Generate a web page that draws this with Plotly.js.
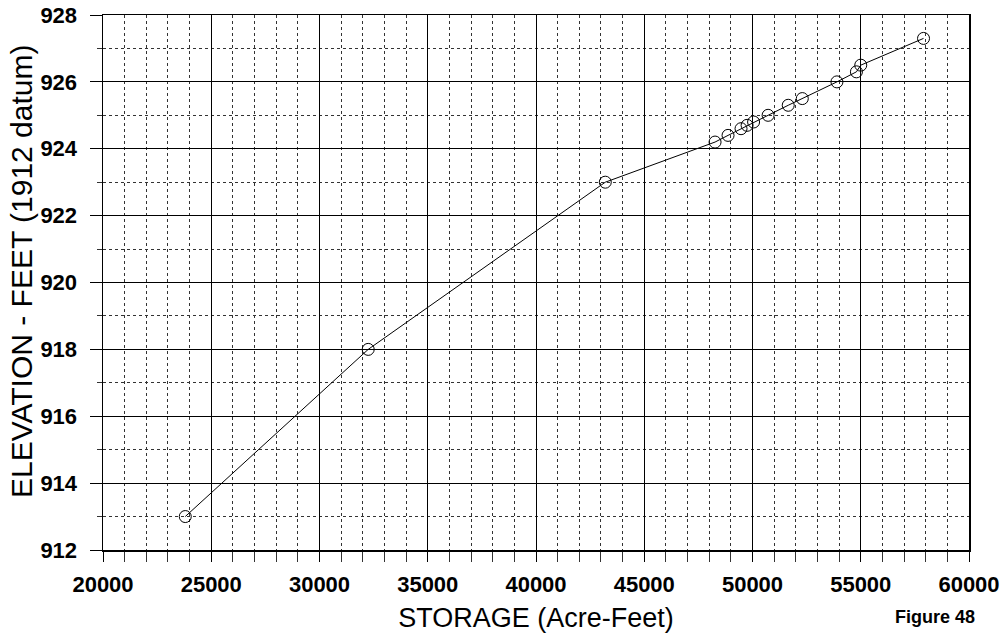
<!DOCTYPE html>
<html>
<head>
<meta charset="utf-8">
<script src="https://cdn.plot.ly/plotly-3.0.1.min.js"></script>
<style>html,body{margin:0;padding:0;background:#fff;}#chart{width:1005px;height:635px;}</style>
</head>
<body>
<div id="chart"></div>
<script>
const storage = [23800, 32250, 43200, 48270, 48870, 49470, 49750, 50050, 50720, 51650, 52300, 53900, 54800, 55000, 57900];
const elevation = [913.0, 918.0, 923.0, 924.2, 924.4, 924.6, 924.7, 924.8, 925.0, 925.3, 925.5, 926.0, 926.3, 926.5, 927.3];
const xTickVals = [20000, 25000, 30000, 35000, 40000, 45000, 50000, 55000, 60000];
const yTickVals = [912, 914, 916, 918, 920, 922, 924, 926, 928];
const xTitle = 'STORAGE (Acre-Feet)';
const yTitle = 'ELEVATION - FEET (1912 datum)';
const figureLabel = 'Figure 48';

const trace = {
  x: storage, y: elevation, type: 'scatter', mode: 'lines+markers',
  line: {color: '#000', width: 1},
  marker: {symbol: 'circle-open', size: 12, color: '#000', line: {width: 1, color: '#000'}},
  showlegend: false, hoverinfo: 'x+y'
};
const fam = 'Liberation Sans, Arial, sans-serif';
const tickFont = {family: fam, size: 22, color: '#000', weight: 'bold'};
const layout = {
  width: 1005, height: 635,
  margin: {l: 103, r: 36, t: 15, b: 85},
  paper_bgcolor: '#fff', plot_bgcolor: '#fff',
  xaxis: {
    range: [20000, 60000], tickvals: xTickVals, ticktext: xTickVals.map(String),
    showgrid: true, gridcolor: '#000', gridwidth: 1,
    ticks: 'outside', ticklen: 10, tickcolor: '#000', tickwidth: 1,
    showline: true, linecolor: '#000', linewidth: 1.5, mirror: true, zeroline: false,
    tickfont: tickFont, ticklabelstandoff: 4,
    minor: {dtick: 1000, showgrid: true, gridcolor: '#333', griddash: 'dot', gridwidth: 1, ticks: 'outside', ticklen: 10, tickcolor: '#333'},
    title: {text: xTitle, font: {family: fam, size: 27, color: '#000'}, standoff: 12}
  },
  yaxis: {
    range: [912, 928], tickvals: yTickVals, ticktext: yTickVals.map(String),
    showgrid: true, gridcolor: '#000', gridwidth: 1,
    ticks: 'outside', ticklen: 12, tickcolor: '#000', tickwidth: 1,
    showline: true, linecolor: '#000', linewidth: 1.5, mirror: true, zeroline: false,
    tickfont: tickFont, ticklabelstandoff: 8,
    minor: {dtick: 1, showgrid: true, gridcolor: '#333', griddash: 'dot', gridwidth: 1, ticks: 'outside', ticklen: 5, tickcolor: '#333'}
  },
  annotations: [{
    text: yTitle, xref: 'paper', yref: 'paper', x: -0.0935, y: 0.5215,
    xanchor: 'center', yanchor: 'middle', textangle: -90, showarrow: false,
    font: {family: fam, size: 30, color: '#000'}
  }, {
    text: figureLabel, xref: 'paper', yref: 'paper', x: 1.0095, y: -0.103,
    xanchor: 'right', yanchor: 'top', showarrow: false,
    font: {family: fam, size: 18, color: '#000', weight: 'bold'}
  }]
};
Plotly.newPlot('chart', [trace], layout, {displayModeBar: false, staticPlot: true});
</script>
</body>
</html>
